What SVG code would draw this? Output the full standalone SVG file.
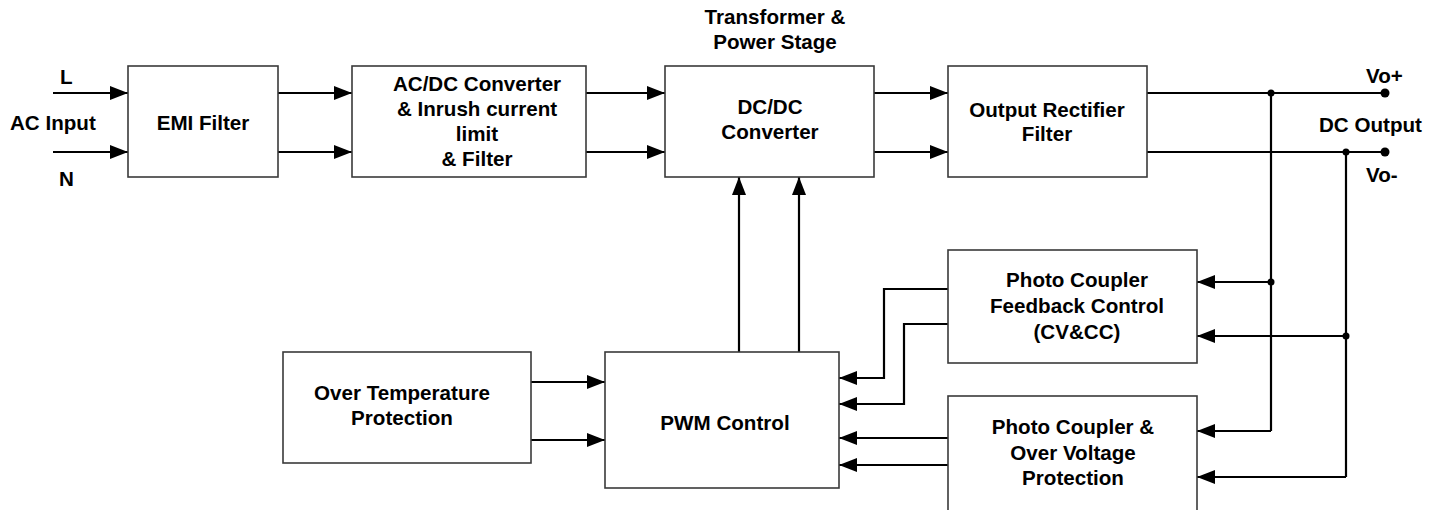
<svg xmlns="http://www.w3.org/2000/svg" width="1441" height="510" viewBox="0 0 1441 510">
<style>
.box{fill:#fff;stroke:#3a3a3a;stroke-width:1.6}
.t{font-family:"Liberation Sans",Arial,sans-serif;font-weight:bold;font-size:20.6px;fill:#000;text-anchor:middle}
.ts{font-family:"Liberation Sans",Arial,sans-serif;font-weight:bold;font-size:20.6px;fill:#000}
.w{fill:none;stroke:#000;stroke-width:2.2}
.a{fill:none;stroke:#000;stroke-width:2.2;marker-end:url(#ah)}
.dot{fill:#000}
</style>
<defs>
<marker id="ah" markerUnits="userSpaceOnUse" markerWidth="18" markerHeight="14" refX="18" refY="7" orient="auto">
<path d="M0,0 L18,7 L0,14 Z" fill="#000"/>
</marker>
</defs>
<rect width="1441" height="510" fill="#fff"/>

<g id="connectors">
<path class="a" d="M53,93 H128"/>
<path class="a" d="M53,152 H128"/>
<path class="a" d="M278,93 H352"/>
<path class="a" d="M278,152 H352"/>
<path class="a" d="M586,93 H665"/>
<path class="a" d="M586,152 H665"/>
<path class="a" d="M874,93 H948"/>
<path class="a" d="M874,152 H948"/>
<path class="w" d="M1147,93 H1385"/>
<path class="w" d="M1147,152 H1385"/>
<path class="w" d="M1271,93 V431"/>
<path class="w" d="M1346,152 V477"/>
<path class="a" d="M1271,282 H1197"/>
<path class="a" d="M1346,336 H1197"/>
<path class="a" d="M1271,431 H1197"/>
<path class="a" d="M1346,477 H1197"/>
<path class="a" d="M948,289 H884 V378 H839"/>
<path class="a" d="M948,324 H904 V404 H839"/>
<path class="a" d="M948,438 H839"/>
<path class="a" d="M948,465 H839"/>
<path class="a" d="M531,382 H605"/>
<path class="a" d="M531,440 H605"/>
<path class="a" d="M739,352 V177"/>
<path class="a" d="M799,352 V177"/>
<circle class="dot" cx="1385" cy="93" r="4.5"/>
<circle class="dot" cx="1385" cy="152" r="4.5"/>
<circle class="dot" cx="1271" cy="93" r="3.5"/>
<circle class="dot" cx="1346" cy="152" r="3.5"/>
<circle class="dot" cx="1271" cy="282" r="3.5"/>
<circle class="dot" cx="1346" cy="336" r="3.5"/>
</g>

<g id="labels">
<text class="ts" x="60" y="84">L</text>
<text class="ts" x="10" y="130">AC Input</text>
<text class="ts" x="59" y="186">N</text>
<text class="t" x="775" y="24">Transformer &amp;</text>
<text class="t" x="775" y="49">Power Stage</text>
<text class="ts" x="1366" y="83">Vo+</text>
<text class="ts" x="1319" y="132">DC Output</text>
<text class="ts" x="1366" y="182">Vo-</text>
</g>

<g id="emi">
<rect class="box" x="128" y="66" width="150" height="111"/>
<text class="t" x="203" y="130">EMI Filter</text>
</g>

<g id="acdc">
<rect class="box" x="352" y="66" width="234" height="111"/>
<text class="t" x="477" y="91">AC/DC Converter</text>
<text class="t" x="477" y="116">&amp; Inrush current</text>
<text class="t" x="477" y="141">limit</text>
<text class="t" x="477" y="166">&amp; Filter</text>
</g>

<g id="dcdc">
<rect class="box" x="665" y="66" width="209" height="111"/>
<text class="t" x="770" y="114">DC/DC</text>
<text class="t" x="770" y="139">Converter</text>
</g>

<g id="rectifier">
<rect class="box" x="948" y="66" width="199" height="111"/>
<text class="t" x="1047" y="117">Output Rectifier</text>
<text class="t" x="1047" y="141">Filter</text>
</g>

<g id="feedback">
<rect class="box" x="948" y="250" width="249" height="113"/>
<text class="t" x="1077" y="287">Photo Coupler</text>
<text class="t" x="1077" y="313">Feedback Control</text>
<text class="t" x="1077" y="339">(CV&amp;CC)</text>
</g>

<g id="ovp">
<rect class="box" x="948" y="396" width="249" height="120"/>
<text class="t" x="1073" y="434">Photo Coupler &amp;</text>
<text class="t" x="1073" y="460">Over Voltage</text>
<text class="t" x="1073" y="485">Protection</text>
</g>

<g id="otp">
<rect class="box" x="283" y="352" width="248" height="111"/>
<text class="t" x="402" y="400">Over Temperature</text>
<text class="t" x="402" y="425">Protection</text>
</g>

<g id="pwm">
<rect class="box" x="605" y="352" width="234" height="136"/>
<text class="t" x="725" y="430">PWM Control</text>
</g>
</svg>
